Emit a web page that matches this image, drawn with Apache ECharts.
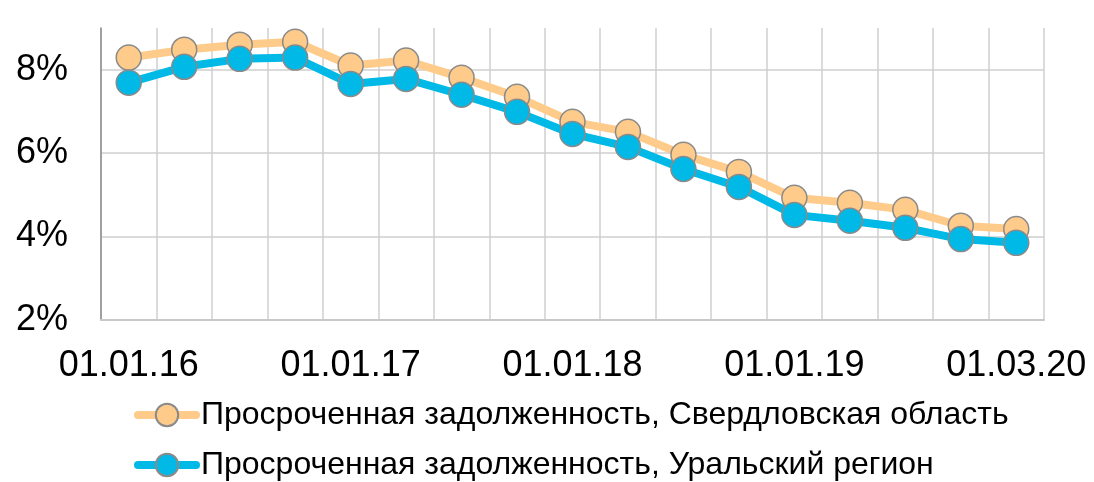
<!DOCTYPE html>
<html>
<head>
<meta charset="utf-8">
<script src="https://cdn.jsdelivr.net/npm/echarts@6/dist/echarts.min.js"></script>
<style>
  html, body { margin: 0; padding: 0; background: #fff; }
  #chart { width: 1094px; height: 482px; }
</style>
</head>
<body>
<div id="chart"></div>
<script>
// quarterly dates
var dates = [
  "01.01.16", "01.04.16", "01.07.16", "01.10.16",
  "01.01.17", "01.04.17", "01.07.17", "01.10.17",
  "01.01.18", "01.04.18", "01.07.18", "01.10.18",
  "01.01.19", "01.04.19", "01.07.19", "01.10.19",
  "01.03.20"
];
// Свердловская область, %
var sverdlovsk = [8.29, 8.48, 8.60, 8.67, 8.10, 8.22, 7.81, 7.35, 6.75, 6.51, 5.96, 5.55, 4.93, 4.81, 4.64, 4.26, 4.18];
// Уральский регион, %
var ural = [7.69, 8.07, 8.26, 8.29, 7.66, 7.78, 7.40, 6.99, 6.46, 6.15, 5.62, 5.19, 4.52, 4.38, 4.21, 3.94, 3.85];

var seriesNames = [
  "Просроченная задолженность, Свердловская область",
  "Просроченная задолженность, Уральский регион"
];
var colors = ["#FECB8A", "#00B9E6"];

var chart = echarts.init(document.getElementById("chart"), null, { renderer: "canvas" });

function lineSeries(name, data, color) {
  return {
    name: name,
    type: "line",
    data: data,
    symbol: "circle",
    symbolSize: 25,
    lineStyle: { color: color, width: 8 },
    itemStyle: { color: color, borderColor: "#8a8a8a", borderWidth: 1.5 },
    emphasis: { disabled: true },
    animation: false
  };
}

// one legend per row, so they stack like the original
function legendRow(name, top) {
  return {
    left: 134,
    top: top,
    padding: 0,
    itemWidth: 58,
    itemHeight: 28,
    selectedMode: false,
    lineStyle: { width: 8, cap: "round" },
    textStyle: { fontSize: 32, color: "#000", fontFamily: "Liberation Sans, Arial, sans-serif" },
    data: [name]
  };
}

chart.setOption({
  textStyle: { fontFamily: "Liberation Sans, Arial, sans-serif", color: "#000" },
  grid: { left: 101, right: 50, top: 28, bottom: 162 },
  legend: [
    legendRow(seriesNames[0], 399),
    legendRow(seriesNames[1], 449)
  ],
  xAxis: {
    type: "category",
    data: dates,
    boundaryGap: true,
    axisLine: { lineStyle: { color: "#c8c8c8", width: 2 } },
    axisTick: { show: false },
    axisLabel: {
      interval: 3,
      fontSize: 36,
      color: "#000",
      margin: 28
    },
    splitLine: { show: true, interval: 0, lineStyle: { color: "#cfcfcf", width: 1.5 } }
  },
  yAxis: {
    type: "value",
    min: 2,
    max: 9,
    interval: 2,
    axisLine: { show: true, lineStyle: { color: "#8c8c8c", width: 1.5 } },
    axisTick: { show: false },
    axisLabel: {
      fontSize: 36,
      color: "#000",
      margin: 33,
      showMaxLabel: false,
      formatter: function (v) { return v + "%"; }
    },
    splitLine: { show: true, showMaxLine: false, lineStyle: { color: "#cfcfcf", width: 1.5 } }
  },
  series: [
    lineSeries(seriesNames[0], sverdlovsk, colors[0]),
    lineSeries(seriesNames[1], ural, colors[1])
  ]
});
</script>
</body>
</html>
